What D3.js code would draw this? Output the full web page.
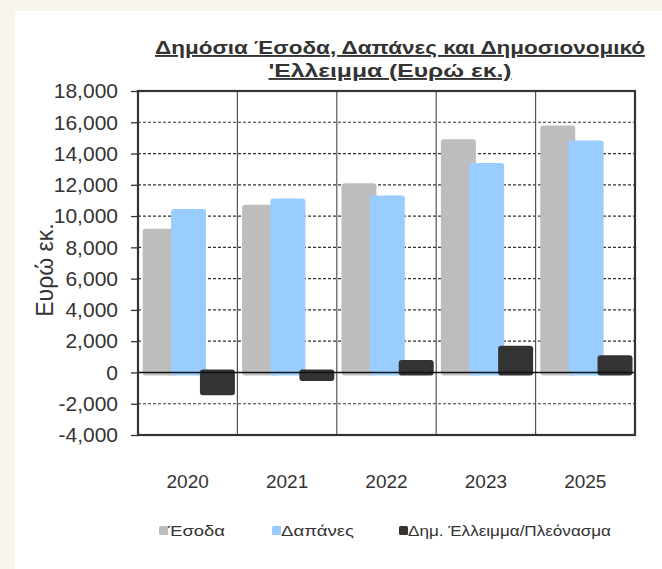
<!DOCTYPE html>
<html>
<head>
<meta charset="utf-8">
<script src="https://cdn.jsdelivr.net/npm/d3@7"></script>
<style>
  html, body { margin: 0; padding: 0; background: #f8f5ef; }
  svg { display: block; }
  text { font-family: "Liberation Sans", Arial, sans-serif; fill: #333; }
</style>
</head>
<body>
<svg id="chart" width="662" height="569"></svg>
<script>
// ─── Data ───
const years = ["2020", "2021", "2022", "2023", "2025"];
const revenue = [9190, 10720, 12100, 14920, 15790];
const spending = [10450, 11130, 11320, 13390, 14830];
const balance = [-1450, -550, 800, 1700, 1100];
const yTicks = [-4000, -2000, 0, 2000, 4000, 6000, 8000, 10000, 12000, 14000, 16000, 18000];

const seriesNames = ["Έσοδα", "Δαπάνες", "Δημ. Έλλειμμα/Πλεόνασμα"];
const seriesColors = ["#bdbdbd", "#99ccff", "#333333"];
const seriesValues = [revenue, spending, balance];

// ─── Layout ───
const plot = { left: 138, right: 635, top: 91, bottom: 435 };

const svg = d3.select("#chart");

// white panel
svg.append("rect")
  .attr("x", 15).attr("y", 11)
  .attr("width", 662 - 15).attr("height", 569 - 11)
  .attr("fill", "#fff");

// ─── Scales ───
const x = d3.scaleBand().domain(years).range([plot.left, plot.right]).padding(0);
const y = d3.scaleLinear().domain([-4000, 18000]).range([plot.bottom, plot.top]);

const bw = x.bandwidth();
const barW = bw * 0.352;
const barOffsets = [bw * 0.047, bw * 0.332, bw * 0.623];

// ─── Grid ───
svg.append("g")
  .selectAll("line")
  .data(yTicks.filter((d) => d !== 0 && d !== 18000 && d !== -4000))
  .join("line")
  .attr("x1", plot.left).attr("x2", plot.right)
  .attr("y1", (d) => y(d)).attr("y2", (d) => y(d))
  .attr("stroke", "#333")
  .attr("stroke-width", 1.2)
  .attr("stroke-dasharray", "3,2");

// vertical separators between categories
svg.append("g")
  .selectAll("line")
  .data(years.slice(1))
  .join("line")
  .attr("x1", (d) => x(d)).attr("x2", (d) => x(d))
  .attr("y1", plot.top).attr("y2", plot.bottom)
  .attr("stroke", "#555")
  .attr("stroke-width", 1.2);

// ─── Bars ───
seriesValues.forEach((vals, si) => {
  svg.append("g")
    .selectAll("rect")
    .data(years.map((yr, i) => ({ year: yr, v: vals[i] })))
    .join("rect")
    .attr("x", (d) => x(d.year) + barOffsets[si])
    .attr("width", barW)
    .attr("y", (d) => (d.v >= 0 ? y(d.v) : y(0) - 3))
    .attr("height", (d) => Math.abs(y(d.v) - y(0)) + 3)
    .attr("rx", 3)
    .attr("fill", seriesColors[si]);
});

// zero line
svg.append("line")
  .attr("x1", plot.left).attr("x2", plot.right)
  .attr("y1", y(0)).attr("y2", y(0))
  .attr("stroke", "#111")
  .attr("stroke-width", 1.5);

// plot border
svg.append("rect")
  .attr("x", plot.left).attr("y", plot.top)
  .attr("width", plot.right - plot.left).attr("height", plot.bottom - plot.top)
  .attr("fill", "none")
  .attr("stroke", "#333")
  .attr("stroke-width", 2.2);

// ─── Y axis ───
const fmt = d3.format(",d");
const yAxis = d3.axisLeft(y)
  .tickValues(yTicks)
  .tickSize(7)
  .tickPadding(13)
  .tickFormat((d) => fmt(d).replace("−", "-"));

const yAxisG = svg.append("g")
  .attr("transform", `translate(${plot.left},0)`)
  .call(yAxis);
yAxisG.select(".domain").remove();
yAxisG.selectAll(".tick line").attr("stroke", "#333").attr("stroke-width", 1.3);
yAxisG.selectAll(".tick text")
  .attr("font-size", "21px")
  .attr("fill", "#333")
  .style("font-family", "'Liberation Sans', Arial, sans-serif");

// ─── X labels ───
svg.append("g")
  .selectAll("text")
  .data(years)
  .join("text")
  .attr("x", (d) => x(d) + bw / 2)
  .attr("y", 488)
  .attr("text-anchor", "middle")
  .attr("font-size", "19px")
  .text((d) => d);

// ─── Axis title ───
svg.append("text")
  .attr("transform", `translate(53,270) rotate(-90)`)
  .attr("text-anchor", "middle")
  .attr("font-size", "23px")
  .text("Ευρώ εκ.");

// ─── Title ───
const title = svg.append("text")
  .attr("text-anchor", "middle")
  .attr("font-size", "19px")
  .attr("font-weight", "bold")
  .style("text-decoration", "underline");
title.append("tspan").attr("x", 400).attr("y", 54)
  .attr("textLength", 490).attr("lengthAdjust", "spacingAndGlyphs")
  .text("Δημόσια Έσοδα, Δαπάνες και Δημοσιονομικό");
title.append("tspan").attr("x", 390).attr("y", 77)
  .attr("textLength", 243).attr("lengthAdjust", "spacingAndGlyphs")
  .text("'Ελλειμμα (Ευρώ εκ.)");

// ─── Legend ───
const legendX = [159, 272, 399];
const legendLen = [57, 73, 203];
const legend = svg.append("g")
  .selectAll("g")
  .data(seriesNames)
  .join("g")
  .attr("transform", (d, i) => `translate(${legendX[i]},526)`);
legend.append("rect")
  .attr("width", 9).attr("height", 9)
  .attr("rx", 1.5)
  .attr("fill", (d, i) => seriesColors[i]);
legend.append("text")
  .attr("x", 9)
  .attr("y", 10)
  .attr("font-size", "15px")
  .attr("textLength", (d, i) => legendLen[i])
  .attr("lengthAdjust", "spacingAndGlyphs")
  .text((d) => d);
</script>
</body>
</html>
